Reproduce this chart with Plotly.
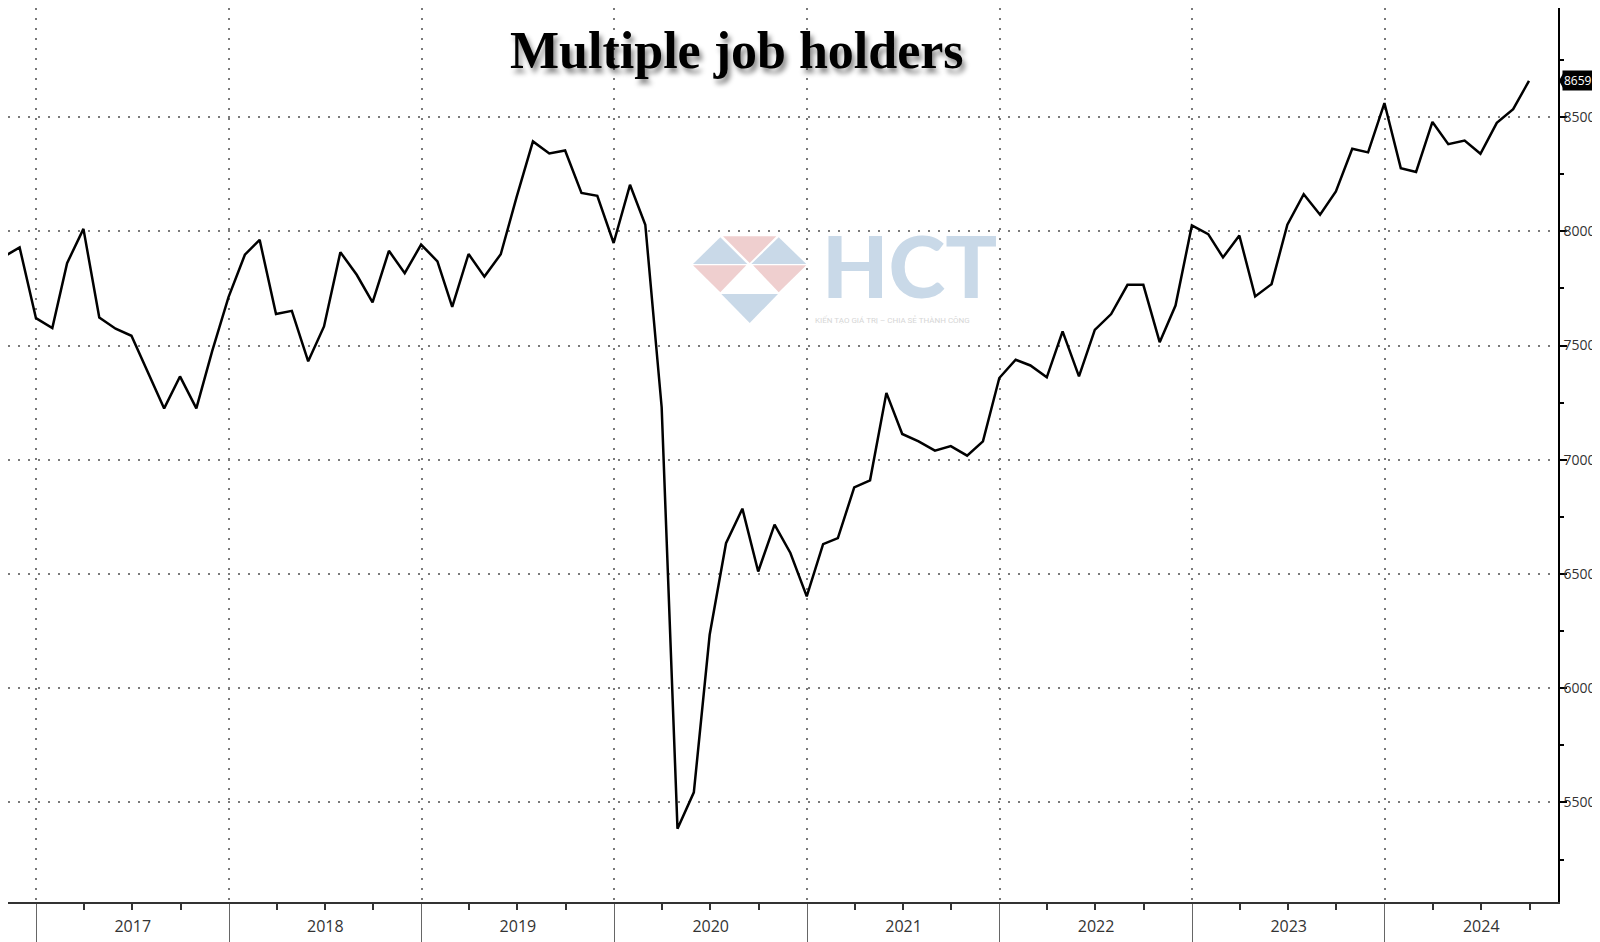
import pandas as pd
import plotly.graph_objects as go

# ---- data (thousands of workers holding multiple jobs, monthly, month-end) ----
start_month = "2016-10"
v2016 = [7889, 7930, 7620]
v2017 = [7577, 7861, 8011, 7623, 7574, 7543, 7380, 7225, 7365, 7225, 7476, 7712]
v2018 = [7898, 7963, 7638, 7652, 7431, 7584, 7909, 7810, 7689, 7915, 7817, 7942]
v2019 = [7869, 7669, 7901, 7802, 7900, 8150, 8394, 8341, 8354, 8168, 8156, 7949]
v2020 = [8204, 8029, 7230, 5385, 5544, 6234, 6635, 6786, 6511, 6716, 6592, 6402]
v2021 = [6631, 6657, 6879, 6910, 7293, 7113, 7081, 7040, 7060, 7018, 7081, 7358]
v2022 = [7438, 7413, 7361, 7562, 7365, 7569, 7638, 7766, 7766, 7515, 7675, 8026]
v2023 = [7988, 7886, 7982, 7715, 7769, 8029, 8163, 8073, 8175, 8362, 8346, 8562]
v2024 = [8277, 8260, 8479, 8382, 8398, 8340, 8475, 8535, 8659]

values = v2016 + v2017 + v2018 + v2019 + v2020 + v2021 + v2022 + v2023 + v2024
dates = pd.period_range(start=start_month, periods=len(values), freq="M").to_timestamp(how="end").normalize()

title_text = "Multiple job holders"
x_range = ["2016-11-08", "2024-11-24"]
y_range = [5064, 8978]

# plot-area geometry (pixels) used for decorative overlays
W, H = 1600, 942
ML, MR, MT, MB = 0, 50, 0, 48
PW, PH = W - ML - MR, H - MT - MB


def px(xp):
    return (xp - ML) / PW


def py(yp):
    return 1 - (yp - MT) / PH


fig = go.Figure()

fig.add_trace(go.Scatter(
    x=dates, y=values, mode="lines",
    line=dict(color="black", width=2.5),
    hoverinfo="x+y", showlegend=False,
))

# ---- watermark logo (decorative) ----
blue, pink = "#c9d9e8", "#efcfcf"
tris = [
    (blue, [(685, 256), (712.3, 229.3), (739.3, 256)]),
    (pink, [(715, 228.3), (768.3, 228.3), (741.7, 255)]),
    (blue, [(743.3, 256), (770.7, 229.3), (798.3, 256)]),
    (pink, [(685, 257.3), (738.3, 257.3), (712.3, 284.3)]),
    (pink, [(745, 257.3), (798.3, 257.3), (770.7, 284.3)]),
    (blue, [(713.3, 286), (770, 286), (741.7, 315)]),
]
shapes = []
for col, pts in tris:
    path = "M " + " L ".join(f"{px(a):.5f},{py(b):.5f}" for a, b in pts) + " Z"
    shapes.append(dict(type="path", path=path, xref="paper", yref="paper",
                       fillcolor=col, line=dict(width=0), layer="below"))

# ---- last value tag pointer ----
last_v = values[-1]
units_per_px = (y_range[1] - y_range[0]) / PH
shapes.append(dict(
    type="path", xref="paper", yref="y",
    path=(f"M {1 + 1/PW:.5f},{last_v} L {1 + 6/PW:.5f},{last_v + 9*units_per_px} "
          f"L {1 + 6/PW:.5f},{last_v - 9*units_per_px} Z"),
    fillcolor="black", line=dict(width=0),
))

annotations = [
    dict(text=f"<b>{title_text}</b>", xref="paper", yref="paper",
         x=px(729), y=py(43), xanchor="center", yanchor="middle", showarrow=False,
         font=dict(family="Liberation Serif, Times New Roman, serif", size=52, color="black",
                   shadow="3px 5px 5px rgba(0,0,0,0.45)")),
    dict(text="HCT", xref="paper", yref="paper", x=px(901), y=py(256),
         xanchor="center", yanchor="middle", showarrow=False,
         font=dict(family="Lato, Roboto, sans-serif", size=86, color=blue, weight=900)),
    dict(text="KIẾN TẠO GIÁ TRỊ – CHIA SẺ THÀNH CÔNG", xref="paper", yref="paper",
         x=px(884), y=py(312), xanchor="center", yanchor="middle", showarrow=False,
         font=dict(family="Roboto, sans-serif", size=8, color="#d6d6d6")),
    dict(text=f"{last_v}", xref="paper", yref="y", x=1, y=last_v,
         xanchor="left", yanchor="middle", xshift=4, showarrow=False,
         bgcolor="black", borderpad=1,
         font=dict(family="Open Sans, sans-serif", size=12, color="white")),
]

fig.update_layout(
    width=W, height=H,
    margin=dict(l=ML, r=MR, t=MT, b=MB),
    paper_bgcolor="white", plot_bgcolor="white",
    shapes=shapes, annotations=annotations,
    xaxis=dict(
        type="date", range=x_range,
        tick0="2017-01-01", dtick="M12", tickformat="%Y", ticklabelmode="period",
        ticks="outside", ticklen=39, tickcolor="#666", tickwidth=1,
        ticklabelstandoff=-30,
        tickfont=dict(family="Open Sans, sans-serif", size=16, color="#333"),
        showgrid=True, gridcolor="#7a7a7a", gridwidth=1.5, griddash="2px,8px",
        minor=dict(dtick="M3", tick0="2017-01-01", ticks="outside", ticklen=6,
                   tickcolor="#333", tickwidth=1.5, showgrid=False),
        showline=True, linecolor="#333", linewidth=2,
        zeroline=False, fixedrange=True,
    ),
    yaxis=dict(
        side="right", range=y_range,
        tick0=0, dtick=500,
        ticks="outside", ticklen=7, tickwidth=2, tickcolor="black",
        ticklabelstandoff=-6,
        tickfont=dict(family="Open Sans, sans-serif", size=14, color="#333"),
        showgrid=True, gridcolor="#7a7a7a", gridwidth=1.5, griddash="2px,8px",
        minor=dict(dtick=250, tick0=0, ticks="outside", ticklen=4,
                   tickcolor="black", tickwidth=1.5, showgrid=False),
        showline=True, linecolor="black", linewidth=1.5,
        zeroline=False, fixedrange=True,
    ),
)

fig.write_html("out.html")
